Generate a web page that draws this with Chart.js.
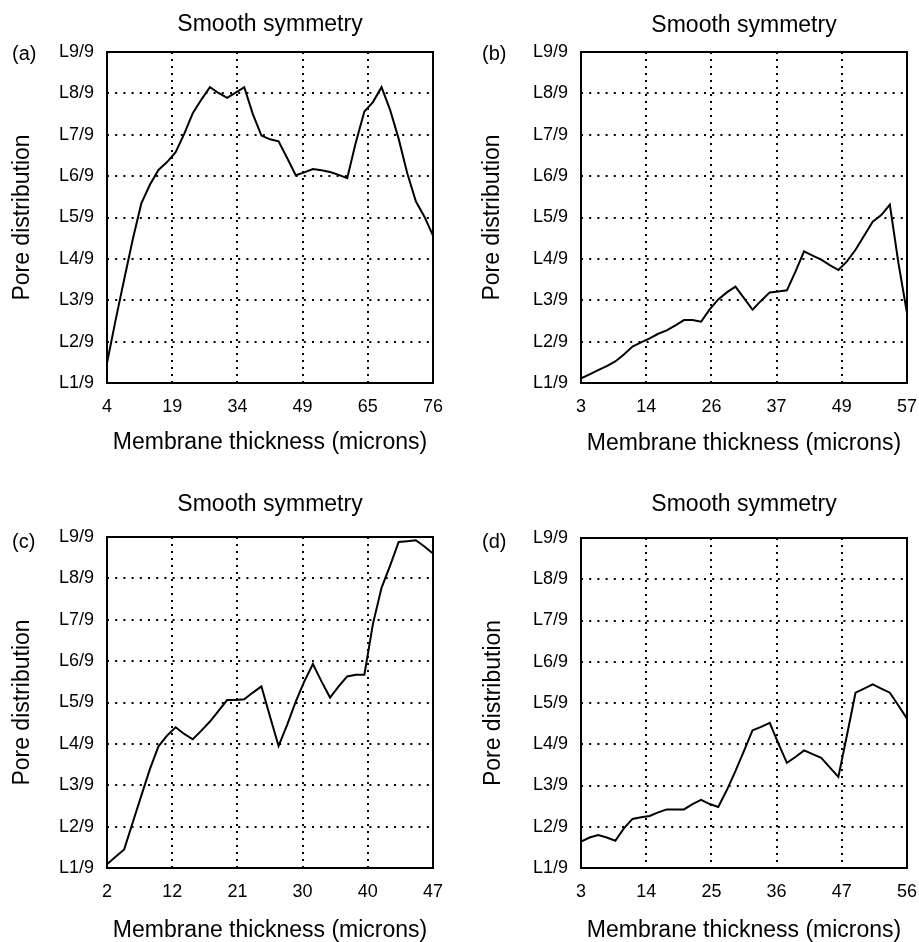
<!DOCTYPE html>
<html>
<head>
<meta charset="utf-8">
<title>Smooth symmetry</title>
<script src="https://cdn.jsdelivr.net/npm/chart.js@4.4.1/dist/chart.umd.min.js"></script>
<style>
  html, body { margin: 0; padding: 0; background: #fff; overflow: hidden; }
  #page { position: relative; width: 919px; height: 942px; background: #fff; overflow: hidden; }
  #page canvas { position: absolute; }
</style>
</head>
<body>
<div id="page"></div>
<script>
// Pore distribution level (1..9), sampled evenly across each membrane's thickness
const poreA = [1.48, 2.52, 3.50, 4.47, 5.34, 5.79, 6.15, 6.34, 6.58, 7.02, 7.52, 7.85, 8.15, 8.01, 7.89, 8.02, 8.15, 7.50, 6.98, 6.89,
               6.84, 6.44, 6.02, 6.09, 6.17, 6.14, 6.10, 6.03, 5.95, 6.81, 7.56, 7.79, 8.15, 7.60, 6.90, 6.07, 5.39, 5.02, 4.56];
const poreB = [1.11, 1.21, 1.31, 1.41, 1.52, 1.69, 1.88, 1.98, 2.08, 2.19, 2.27, 2.39, 2.52, 2.52, 2.48, 2.78, 3.02, 3.19, 3.33, 3.05,
               2.77, 2.99, 3.19, 3.21, 3.24, 3.69, 4.18, 4.08, 3.98, 3.85, 3.73, 3.94, 4.22, 4.56, 4.90, 5.06, 5.31, 3.90, 2.69];
const poreC = [1.09, 1.27, 1.45, 2.10, 2.75, 3.39, 3.94, 4.20, 4.40, 4.24, 4.11, 4.32, 4.54, 4.80, 5.06, 5.06, 5.08, 5.24, 5.39, 4.66,
               3.95, 4.46, 5.02, 5.51, 5.93, 5.51, 5.12, 5.39, 5.63, 5.67, 5.67, 6.90, 7.77, 8.31, 8.88, 8.90, 8.92, 8.77, 8.60];
const poreD = [1.64, 1.74, 1.80, 1.74, 1.66, 1.96, 2.19, 2.23, 2.26, 2.35, 2.42, 2.42, 2.42, 2.55, 2.65, 2.55, 2.48, 2.89, 3.35, 3.84,
               4.34, 4.42, 4.52, 4.02, 3.55, 3.69, 3.85, 3.76, 3.67, 3.44, 3.21, 4.22, 5.25, 5.35, 5.45, 5.35, 5.25, 4.94, 4.62];

// Thickness labels (microns) at the evenly spaced x grid lines
const thicknessTicksA = ['4', '19', '34', '49', '65', '76'];
const thicknessTicksB = ['3', '14', '26', '37', '49', '57'];
const thicknessTicksC = ['2', '12', '21', '30', '40', '47'];
const thicknessTicksD = ['3', '14', '25', '36', '47', '56'];

// Pore level labels on the y axis
const levelTicks = ['L1/9', 'L2/9', 'L3/9', 'L4/9', 'L5/9', 'L6/9', 'L7/9', 'L8/9', 'L9/9'];

const panelLetters = ['(a)', '(b)', '(c)', '(d)'];
const panelTitle = 'Smooth symmetry';
const xAxisTitle = 'Membrane thickness (microns)';
const yAxisTitle = 'Pore distribution';

// Page layout of each panel's plotting box and its surrounding text
const frames = [
  { left: 107, top: 52,  right: 433, bottom: 383, titleGap: 27, xTitleGap: 60, yTitleX: 23, letterDx: -95, letterDy: 2 },
  { left: 581, top: 52,  right: 907, bottom: 383, titleGap: 26, xTitleGap: 61, yTitleX: 19, letterDx: -99, letterDy: 2 },
  { left: 107, top: 537, right: 433, bottom: 868, titleGap: 32, xTitleGap: 63, yTitleX: 23, letterDx: -95, letterDy: 5 },
  { left: 581, top: 538, right: 907, bottom: 868, titleGap: 33, xTitleGap: 63, yTitleX: 20, letterDx: -99, letterDy: 4 }
];

const FONT = '"Liberation Sans", Arial, Helvetica, sans-serif';
const Y_AXIS_W = 107, TOP_H = 60, BOTTOM_H = 80, RIGHT_PAD = 12;
const TITLE_SIZE = 23, TICK_SIZE = 18, LETTER_SIZE = 20;

Chart.defaults.font.family = FONT;
Chart.defaults.color = '#000';

// Solid box round the plotting area plus the panel letter
const framePlugin = {
  id: 'panelFrame',
  afterDraw(chart, args, opts) {
    const { ctx, chartArea: a } = chart;
    ctx.save();
    ctx.setLineDash([]);
    ctx.strokeStyle = '#000';
    ctx.lineWidth = 2;
    ctx.strokeRect(a.left, a.top, a.right - a.left, a.bottom - a.top);
    ctx.font = LETTER_SIZE + 'px ' + FONT;
    ctx.fillStyle = '#000';
    ctx.textAlign = 'left';
    ctx.textBaseline = 'middle';
    ctx.fillText(opts.letter, a.left + opts.dx, a.top + opts.dy);
    ctx.restore();
  }
};

const series = [poreA, poreB, poreC, poreD];
const xTickSets = [thicknessTicksA, thicknessTicksB, thicknessTicksC, thicknessTicksD];
const page = document.getElementById('page');

series.forEach((values, p) => {
  const f = frames[p];
  const xTicks = xTickSets[p];
  const last = values.length - 1;
  const half = TITLE_SIZE * 1.2 / 2;

  const canvas = document.createElement('canvas');
  const w = (f.right - f.left) + Y_AXIS_W + RIGHT_PAD;
  const h = (f.bottom - f.top) + TOP_H + BOTTOM_H;
  canvas.width = w;
  canvas.height = h;
  canvas.style.width = w + 'px';
  canvas.style.height = h + 'px';
  canvas.style.left = (f.left - Y_AXIS_W) + 'px';
  canvas.style.top = (f.top - TOP_H) + 'px';
  page.appendChild(canvas);

  new Chart(canvas, {
    type: 'line',
    data: {
      datasets: [{
        data: values.map((v, i) => ({ x: i, y: v })),
        borderColor: '#000',
        borderWidth: 2,
        pointRadius: 0,
        tension: 0,
        fill: false
      }]
    },
    options: {
      responsive: false,
      devicePixelRatio: 1,
      animation: false,
      events: [],
      layout: { autoPadding: false, padding: { left: 0, top: 0, right: RIGHT_PAD, bottom: 0 } },
      plugins: {
        legend: { display: false },
        tooltip: { enabled: false },
        title: {
          display: true,
          text: panelTitle,
          fullSize: false,
          color: '#000',
          font: { size: TITLE_SIZE, weight: 'normal' },
          padding: { top: TOP_H - f.titleGap - half, bottom: f.titleGap - half }
        },
        panelFrame: { letter: panelLetters[p], dx: f.letterDx, dy: f.letterDy }
      },
      scales: {
        x: {
          type: 'linear',
          min: 0,
          max: last,
          afterBuildTicks: s => { s.ticks = xTicks.map((_, k) => ({ value: k * last / (xTicks.length - 1) })); },
          // fixed band height; end labels may overhang into the layout padding
          afterFit: s => { s.height = BOTTOM_H; s.paddingLeft = 0; s.paddingRight = 0; },
          ticks: {
            callback: (v, i) => xTicks[i],
            autoSkip: false,
            maxRotation: 0,
            padding: 13.2,
            color: '#000',
            font: { size: TICK_SIZE }
          },
          grid: { color: '#000', lineWidth: 2, drawTicks: false, borderDash: [2, 5] },
          border: { display: false, dash: [2, 5] },
          title: {
            display: true,
            text: xAxisTitle,
            color: '#000',
            font: { size: TITLE_SIZE },
            padding: { top: 0, bottom: BOTTOM_H - f.xTitleGap - half }
          }
        },
        y: {
          type: 'linear',
          min: 1,
          max: levelTicks.length,
          afterBuildTicks: s => { s.ticks = levelTicks.map((_, k) => ({ value: k + 1 })); },
          afterFit: s => { s.width = Y_AXIS_W; s.paddingTop = 0; s.paddingBottom = 0; },
          ticks: {
            callback: (v, i) => levelTicks[i],
            autoSkip: false,
            padding: 13,
            color: '#000',
            font: { size: TICK_SIZE }
          },
          grid: { color: '#000', lineWidth: 2, drawTicks: false, borderDash: [2, 6.2] },
          border: { display: false, dash: [2, 6.2] },
          title: {
            display: true,
            text: yAxisTitle,
            color: '#000',
            font: { size: TITLE_SIZE },
            padding: { top: f.yTitleX - half, bottom: 0 }
          }
        }
      }
    },
    plugins: [framePlugin]
  });
});
</script>
</body>
</html>
